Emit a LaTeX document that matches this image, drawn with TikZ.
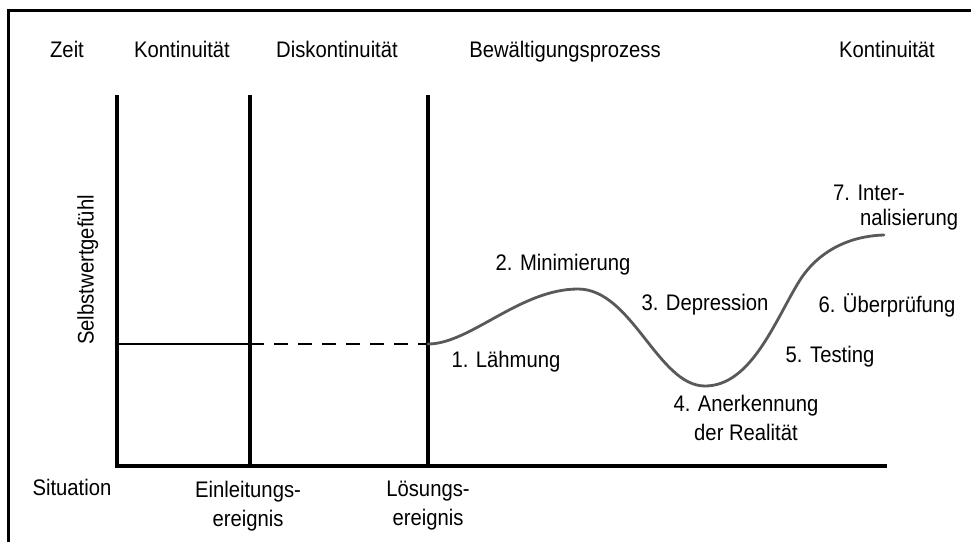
\documentclass[tikz,border=0pt]{standalone}
\usepackage{fontspec}
\setmainfont{Liberation Sans}[FakeStretch=0.9]
\usetikzlibrary{positioning}

\begin{document}
\begin{tikzpicture}[x=1pt, y=-1pt,
        frame/.style={line width=3pt},
        axis/.style={line width=3.4pt, line join=miter},
        level/.style={line width=2.2pt},
        course/.style={line width=2.8pt, black!65, line cap=round},
        lbl/.style={font=\fontsize{22.5}{29}\selectfont, inner sep=0pt, align=center,
                    text height=16pt, text depth=5pt},
        phase/.style={font=\fontsize{22.5}{29}\selectfont, inner sep=0pt, align=center}]
      \useasboundingbox (0,0) rectangle (971,542);
      % frame (top and left only)
      \coordinate (fl) at (8,542);
      \coordinate (ftl) at (8,10);
      \coordinate (ftr) at (971,10);
      \draw[frame] (fl) -- (ftl) -- (ftr);
      % axes and event lines
      \coordinate (a1) at (117,95);   \coordinate (o)  at (117,466);
      \coordinate (a2) at (250,95);   \coordinate (b2) at (250,466);
      \coordinate (a3) at (428,95);   \coordinate (b3) at (428,466);
      \coordinate (xend) at (887,466);
      \draw[axis] (a1) -- (o) -- (xend);
      \draw[axis] (a2) -- (b2);
      \draw[axis] (a3) -- (b3);
      % level of self esteem
      \coordinate (s0) at (117,344);
      \coordinate (s1) at (250,344);
      \coordinate (s2) at (428,344);
      \draw[level] (s0) -- (s1);
      \draw[level, dash pattern=on 14pt off 10pt] (s1) -- (s2);
      % coping curve
      \coordinate (peak) at (578,289);
      \coordinate (low) at (705,386);
      \coordinate (rise) at (800,280);
      \coordinate (top) at (884,235);
      \draw[course] (s2) .. controls (470,344) and (520,289) .. (peak)
                         .. controls (632,289) and (658,386) .. (low)
                         .. controls (752,386) and (776,318) .. (rise)
                         .. controls (818,252) and (848,236) .. (top);
      % column heads
      \node[lbl] (zeit) at (67,52) {Zeit};
      \node[lbl] (kont1) at (182,52) {Kontinuität};
      \node[lbl] (diskont) at (337,52) {Diskontinuität};
      \node[lbl] (bewpr) at (565,52) {Bewältigungsprozess};
      \node[lbl] (kont2) at (887,52) {Kontinuität};
      % axis labels
      \node[lbl, rotate=90] (sw) at (88,270) {Selbstwertgefühl};
      \node[lbl] (sit) at (72,490) {Situation};
      \node[phase] (einl) at (248,506) {Einleitungs-\\ereignis};
      \node[phase] (loes) at (428,506) {Lösungs-\\ereignis};
      % phases
      \node[lbl] (p1) at (506,362) {1. Lähmung};
      \node[lbl] (p2) at (563,265) {2. Minimierung};
      \node[lbl] (p3) at (705,305) {3. Depression};
      \node[phase] (p4) at (746,418) {4. Anerkennung\\der Realität};
      \node[lbl] (p5) at (830,357) {5. Testing};
      \node[lbl] (p6) at (887,307) {6. Überprüfung};
      \node[phase, align=left, anchor=west] (p7) at (833,208) {7. Inter-\\[-4pt]\hspace*{27pt}nalisierung};
    \end{tikzpicture}
\end{document}
